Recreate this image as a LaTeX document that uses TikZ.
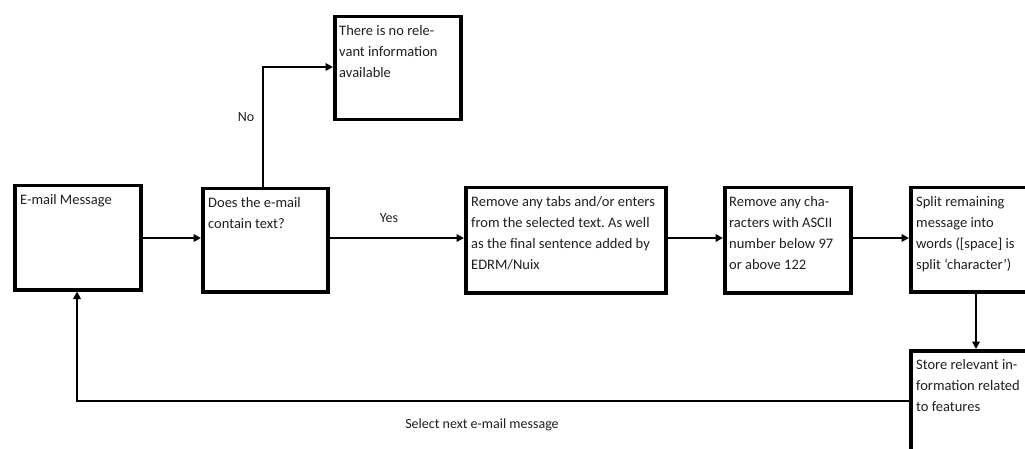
\documentclass[tikz,border=0pt]{standalone}
\usepackage{fontspec}
\setmainfont{Carlito}
\usetikzlibrary{arrows.meta}
\frenchspacing
\begin{document}
\begin{tikzpicture}[x=1pt,y=-1pt,
  box/.style={draw=black,line width=3.5pt,fill=white,anchor=north west,inner sep=0pt},
  txt/.style={anchor=north west,inner sep=0pt,align=left,font=\fontsize{14.5}{21}\selectfont,text=black!88},
  lbl/.style={inner sep=0pt,font=\fontsize{14}{16}\selectfont,text=black!88},
  flow/.style={line width=2.6pt,-{Triangle[length=7.5pt,width=7.5pt]}}]
\useasboundingbox (0,0) rectangle (1025,449);
\clip (0,0) rectangle (1025,449);
\fill[white] (0,0) rectangle (1025,449);

% process boxes
\node[box,minimum width=126pt,minimum height=104pt] (email) at (13,184) {};
\node[box,minimum width=125pt,minimum height=103pt] (check) at (201,187) {};
\node[box,minimum width=126pt,minimum height=103pt] (none) at (333,15) {};
\node[box,minimum width=200pt,minimum height=105pt] (tabs) at (464,186) {};
\node[box,minimum width=126pt,minimum height=105pt] (ascii) at (723,186) {};
\node[box,minimum width=140pt,minimum height=104pt] (split) at (909,186) {};
\node[box,minimum width=140pt,minimum height=130pt] (store) at (909,349) {};

% box texts
\node[txt] (temail) at ([shift={(7,10)}]email.north west) {E-mail Message};
\node[txt] (tcheck) at ([shift={(7,10)}]check.north west) {Does the e-mail\\contain text?};
\node[txt] (tnone) at ([shift={(6,10)}]none.north west) {There is no rele-\\vant information\\available};
\node[txt] (ttabs) at ([shift={(7,10)}]tabs.north west) {Remove any tabs and/or enters\\from the selected text. As well\\as the final sentence added by\\EDRM/Nuix};
\node[txt] (tascii) at ([shift={(6,10)}]ascii.north west) {Remove any cha-\\racters with ASCII\\number below 97\\or above 122};
\node[txt] (tsplit) at ([shift={(7,10)}]split.north west) {Split remaining\\message into\\words ([space] is\\split ‘character’)};
\node[txt] (tstore) at ([shift={(7,10)}]store.north west) {Store relevant in-\\formation related\\to features};

% connectors
\coordinate (up) at (263,67);
\coordinate (back) at (77,401);
\draw[flow] (email.east |- 0,238) -- (check.west |- 0,238);
\draw[flow] (check.east |- 0,238) -- (tabs.west |- 0,238);
\draw[flow] (tabs.east |- 0,238) -- (ascii.west |- 0,238);
\draw[flow] (ascii.east |- 0,238) -- (split.west |- 0,238);
\draw[flow] (check.north -| up) -- (up) -- (none.west |- up);
\draw[flow] (split.south -| 976,0) -- (store.north -| 976,0);
\draw[flow] (store.west |- back) -- (back) -- (email.south -| back);

% connector labels
\node[lbl] (lno) at (246,117) {No};
\node[lbl] (lyes) at (389,218) {Yes};
\node[lbl] (lnext) at (482,425) {Select next e-mail message};
\end{tikzpicture}
\end{document}
